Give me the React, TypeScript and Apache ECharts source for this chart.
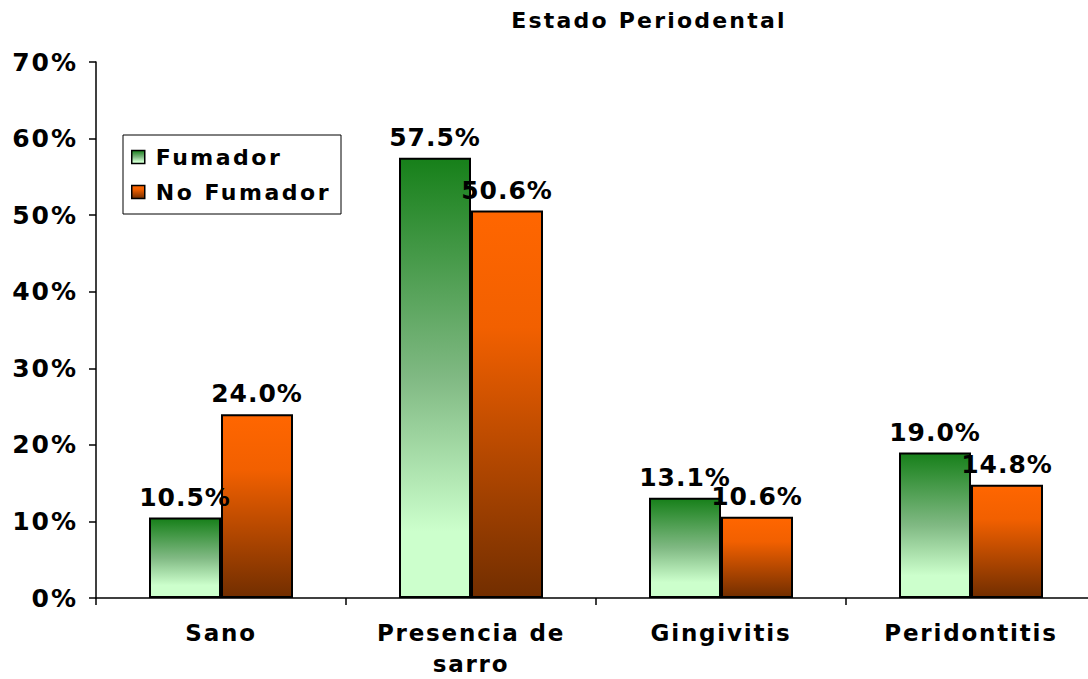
import React, { useEffect, useRef } from "react";
import * as echarts from "echarts";

const categories = ["Sano", "Presencia de\nsarro", "Gingivitis", "Peridontitis"];
const fumador = [0.105, 0.575, 0.131, 0.19];
const noFumador = [0.24, 0.506, 0.106, 0.148];
const seriesNames = ["Fumador", "No Fumador"];
const titleText = "Estado Periodental";

const FONT = "DejaVu Sans";

export default function App() {
  const ref = useRef<HTMLDivElement>(null);
  useEffect(() => {
    if (!ref.current) return;
    const chart = echarts.init(ref.current, null, { renderer: "svg" });
    const greenGrad = new echarts.graphic.LinearGradient(0, 0, 0, 1, [
      { offset: 0, color: "#17801a" },
      { offset: 0.5, color: "#80b983" },
      { offset: 0.85, color: "#ccffcc" },
      { offset: 1, color: "#ccffcc" },
    ]);
    const orangeGrad = new echarts.graphic.LinearGradient(0, 0, 0, 1, [
      { offset: 0, color: "#ff6600" },
      { offset: 0.3, color: "#f26000" },
      { offset: 1, color: "#722e00" },
    ]);
    const labelCfg = {
      show: true,
      position: "top",
      distance: 8,
      color: "#000",
      fontFamily: FONT,
      fontWeight: "bold",
      fontSize: 25,
      formatter: (p: any) => (p.value * 100).toFixed(1) + "%",
    };
    chart.setOption({
      animation: false,
      backgroundColor: "#fff",
      title: {
        text: titleText,
        left: 644,
        textAlign: "center",
        top: 4,
        textStyle: { fontFamily: FONT, fontWeight: "bold", fontSize: 22, color: "#000" },
      },
      legend: {
        orient: "vertical",
        left: 123,
        top: 135,
        backgroundColor: "#fff",
        borderColor: "#000",
        borderWidth: 1,
        borderRadius: 0,
        padding: [9, 35, 9, 8],
        itemWidth: 13,
        itemHeight: 13,
        itemGap: 9,
        icon: "rect",
        itemStyle: { borderColor: "#000", borderWidth: 1.5 },
        textStyle: {
          fontFamily: FONT,
          fontWeight: "bold",
          fontSize: 22,
          lineHeight: 26,
          color: "#000",
          padding: [0, 0, 0, 6],
        },
        data: seriesNames,
      },
      grid: { left: 96, top: 62, width: 1000, height: 539, containLabel: false },
      xAxis: {
        type: "category",
        data: categories,
        axisLine: { show: true, lineStyle: { color: "#000", width: 1.5 } },
        axisTick: { show: true, length: 7, lineStyle: { color: "#000", width: 1.5 } },
        axisLabel: {
          color: "#000",
          fontFamily: FONT,
          fontWeight: "bold",
          fontSize: 23,
          lineHeight: 31,
          margin: 19,
          interval: 0,
        },
      },
      yAxis: {
        type: "value",
        min: 0,
        max: 0.7,
        interval: 0.1,
        axisLine: { show: true, lineStyle: { color: "#000", width: 1.5 } },
        axisTick: { show: true, length: 7, lineStyle: { color: "#000", width: 1.5 } },
        splitLine: { show: false },
        axisLabel: {
          color: "#000",
          fontFamily: FONT,
          fontWeight: "bold",
          fontSize: 25,
          margin: 18,
          formatter: (v: number) => Math.round(v * 100) + "%",
        },
      },
      series: [
        {
          name: seriesNames[0],
          type: "bar",
          data: fumador,
          barWidth: 72,
          barGap: "0%",
          itemStyle: { color: greenGrad, borderColor: "#000", borderWidth: 2 },
          label: labelCfg,
        },
        {
          name: seriesNames[1],
          type: "bar",
          data: noFumador,
          barWidth: 72,
          barGap: "0%",
          itemStyle: { color: orangeGrad, borderColor: "#000", borderWidth: 2 },
          label: labelCfg,
        },
      ],
    });
    // Reference text is drawn with extra letter spacing
    const texts = ref.current.querySelectorAll("text");
    texts.forEach((t) => {
      const s = (t.textContent || "").trim();
      let sp = 1.8;
      if (s === titleText) sp = 2.2;
      else if (seriesNames.includes(s)) sp = 2.5;
      else if (s.includes(".")) sp = 1;
      else if (/^\d+%$/.test(s)) sp = 2;
      t.setAttribute("letter-spacing", String(sp));
    });
    return () => chart.dispose();
  }, []);
  return (
    <div style={{ position: "absolute", left: 0, top: 0, width: 1088, height: 679, overflow: "hidden" }}>
      <div ref={ref} style={{ width: 1100, height: 679 }} />
    </div>
  );
}
